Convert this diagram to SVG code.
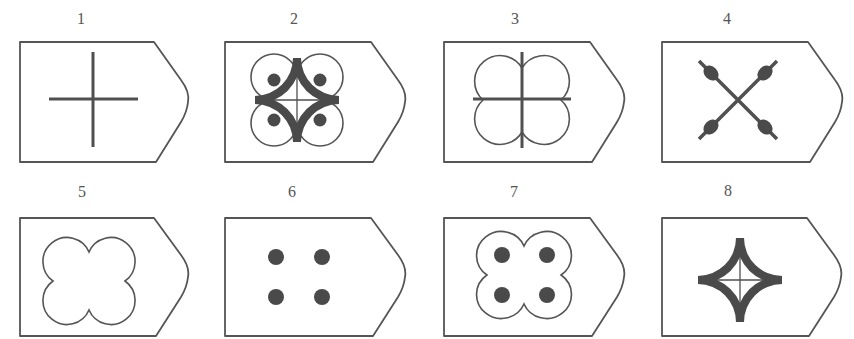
<svg xmlns="http://www.w3.org/2000/svg" xmlns:xlink="http://www.w3.org/1999/xlink" width="854" height="339" viewBox="0 0 854 339">
<style>
.frame{fill:none;stroke:#555;stroke-width:1.8;stroke-linejoin:round}
.lbl{font-family:"Liberation Serif","DejaVu Serif",serif;font-size:16px;fill:#555;text-anchor:middle}
.bar{stroke:#505050;stroke-width:3;stroke-linecap:butt;fill:none}
.thin{stroke:#505050;stroke-width:1.3;fill:none}
.ol{fill:none;stroke:#555;stroke-width:1.6}
.dot{fill:#4a4a4a}
</style>
<defs>
<g id="star">
<path d="M-4,-42 H4 A38,38 0 0 0 42,-4 V4 A38,38 0 0 0 4,42 H-4 A38,38 0 0 0 -42,4 V-4 A38,38 0 0 0 -4,-42 Z" fill="#4a4a4a"/>
<path d="M0,-23 A45,45 0 0 0 23,0 A45,45 0 0 0 0,23 A45,45 0 0 0 -23,0 A45,45 0 0 0 0,-23 Z" fill="#fff"/>
<path class="thin" d="M0,-23 V23 M-23,0 H23"/>
</g>
<path id="clover" class="ol" d="M-36,0 A24,24 0 1 1 0,-29 A24,24 0 1 1 36,0 A24,24 0 1 1 0,29 A24,24 0 1 1 -36,0 Z"/>
</defs>

<g id="panel1">
<path class="frame" d="M20,42 H154 L181,80 Q190,92 188,102 Q187,112 181,122 L156,162 H20 Z"/>
<text class="lbl" x="81" y="24">1</text>
<path class="bar" d="M49,99 H138 M93,52 V147"/>
</g>

<g id="panel2">
<path class="frame" d="M225,42 H371 L398,80 Q407,92 405,102 Q404,112 398,122 L373,162 H225 Z"/>
<text class="lbl" x="294" y="24">2</text>
<circle class="ol" cx="274" cy="77" r="23"/>
<circle class="ol" cx="320" cy="77" r="23"/>
<circle class="ol" cx="274" cy="123" r="23"/>
<circle class="ol" cx="320" cy="123" r="23"/>
<circle class="dot" cx="274" cy="80" r="6.5"/>
<circle class="dot" cx="320" cy="80" r="6.5"/>
<circle class="dot" cx="274" cy="120" r="6.5"/>
<circle class="dot" cx="320" cy="120" r="6.5"/>
<use xlink:href="#star" href="#star" transform="translate(297,100)"/>
</g>

<g id="panel3">
<path class="frame" d="M444,42 H590 L617,80 Q626,92 624,102 Q623,112 617,122 L592,162 H444 Z"/>
<text class="lbl" x="515" y="24">3</text>
<path class="ol" transform="translate(522,100)" d="M-39,0 A25.5,25.5 0 1 1 0,-32 A25.5,25.5 0 1 1 39,0 A25.5,25.5 0 1 1 0,32 A25.5,25.5 0 1 1 -39,0 Z"/>
<path class="bar" d="M473,99 H571 M522,52 V148"/>
</g>

<g id="panel4">
<path class="frame" d="M662,42 H808 L835,80 Q844,92 842,102 Q841,112 835,122 L810,162 H662 Z"/>
<text class="lbl" x="727" y="24">4</text>
<path class="bar" style="stroke-width:3.5" d="M699,61 L777,139 M777,61 L699,139"/>
<ellipse class="dot" cx="711" cy="73" rx="8.5" ry="6.5" transform="rotate(45 711 73)"/>
<ellipse class="dot" cx="765" cy="73" rx="8.5" ry="6.5" transform="rotate(-45 765 73)"/>
<ellipse class="dot" cx="711" cy="127" rx="8.5" ry="6.5" transform="rotate(-45 711 127)"/>
<ellipse class="dot" cx="765" cy="127" rx="8.5" ry="6.5" transform="rotate(45 765 127)"/>
</g>

<g id="panel5">
<path class="frame" d="M20,218 H154 L181,255 Q190,267 188,277 Q187,287 181,297 L156,336 H20 Z"/>
<text class="lbl" x="82" y="197">5</text>
<use xlink:href="#clover" href="#clover" transform="translate(89,281)"/>
</g>

<g id="panel6">
<path class="frame" d="M225,218 H371 L398,255 Q407,267 405,277 Q404,287 398,297 L373,336 H225 Z"/>
<text class="lbl" x="292" y="197">6</text>
<circle class="dot" cx="276" cy="257" r="8"/>
<circle class="dot" cx="322" cy="257" r="8"/>
<circle class="dot" cx="276" cy="297" r="8"/>
<circle class="dot" cx="322" cy="297" r="8"/>
</g>

<g id="panel7">
<path class="frame" d="M444,218 H590 L617,255 Q626,267 624,277 Q623,287 617,297 L592,336 H444 Z"/>
<text class="lbl" x="514" y="197">7</text>
<use xlink:href="#clover" href="#clover" transform="translate(524,275) scale(1.03,1)"/>
<circle class="dot" cx="502" cy="255" r="8"/>
<circle class="dot" cx="547" cy="255" r="8"/>
<circle class="dot" cx="502" cy="295" r="8"/>
<circle class="dot" cx="547" cy="295" r="8"/>
</g>

<g id="panel8">
<path class="frame" d="M662,218 H807 L834,255 Q843,267 841,277 Q840,287 834,297 L809,336 H662 Z"/>
<text class="lbl" x="728" y="196">8</text>
<use xlink:href="#star" href="#star" transform="translate(740,280)"/>
</g>

<g id="connectors"/>
</svg>
